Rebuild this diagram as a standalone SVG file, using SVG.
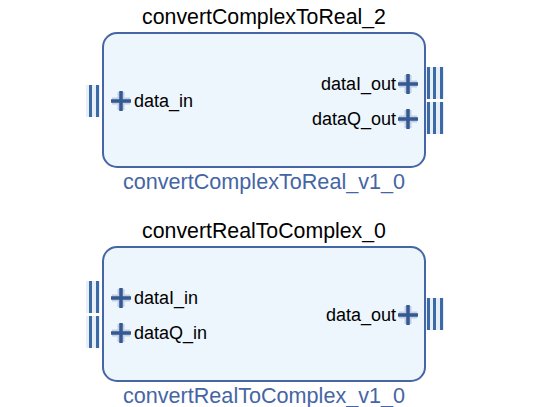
<svg xmlns="http://www.w3.org/2000/svg" width="543" height="407" viewBox="0 0 543 407">
<defs>
<style>
.box{fill:#edf5fd;stroke:#4565a5;stroke-width:2}
.title{font-family:"Liberation Sans",Arial,sans-serif;font-size:21.3px;fill:#000;text-anchor:middle}
.sub{font-family:"Liberation Sans",Arial,sans-serif;font-size:21.6px;fill:#4565a5;text-anchor:middle}
.lbl{font-family:"Liberation Sans",Arial,sans-serif;font-size:18px;fill:#000}
.r{text-anchor:end}
.busbg{fill:#e6eef8}
.bus{stroke:#3c6aa4;stroke-width:3}
.ph{stroke:#c3cfe2;stroke-width:7}
.pd{stroke:#355a92;stroke-width:3.5}
</style>
<g id="plus">
<path class="ph" d="M-9,0H9M0,-9V9"/>
<path class="pd" d="M-10,0H10M0,-10V10"/>
</g>
<g id="in1">
<rect class="busbg" x="86" y="0" width="14" height="32"/>
<path class="bus" d="M90.5,0V32M97.5,0V32"/>
</g>
<g id="out1">
<rect class="busbg" x="426" y="0" width="18" height="32"/>
<path class="bus" d="M428.5,0V32M434.5,0V32M441.5,0V32"/>
</g>
</defs>
<rect width="543" height="407" fill="#fff"/>
<g id="convertComplexToReal_2">
<text class="title" x="264" y="24">convertComplexToReal_2</text>
<rect class="box" x="103" y="33" width="322" height="134" rx="14"/>
<use href="#in1" y="85"/>
<use href="#plus" x="121" y="101"/>
<text class="lbl" x="134" y="107">data_in</text>
<use href="#out1" y="67"/>
<use href="#plus" x="408" y="84"/>
<text class="lbl r" x="396" y="90">dataI_out</text>
<use href="#out1" y="102"/>
<use href="#plus" x="408" y="119"/>
<text class="lbl r" x="396" y="125">dataQ_out</text>
<text class="sub" x="264" y="189">convertComplexToReal_v1_0</text>
</g>
<g id="convertRealToComplex_0">
<text class="title" x="264" y="238">convertRealToComplex_0</text>
<rect class="box" x="103" y="247" width="322" height="134" rx="14"/>
<use href="#in1" y="281"/>
<use href="#plus" x="121" y="298"/>
<text class="lbl" x="134" y="304">dataI_in</text>
<use href="#in1" y="316"/>
<use href="#plus" x="121" y="333"/>
<text class="lbl" x="134" y="339">dataQ_in</text>
<use href="#out1" y="298"/>
<use href="#plus" x="408" y="315"/>
<text class="lbl r" x="396" y="321">data_out</text>
<text class="sub" x="264" y="403">convertRealToComplex_v1_0</text>
</g>
<g id="connectors"/>
</svg>
